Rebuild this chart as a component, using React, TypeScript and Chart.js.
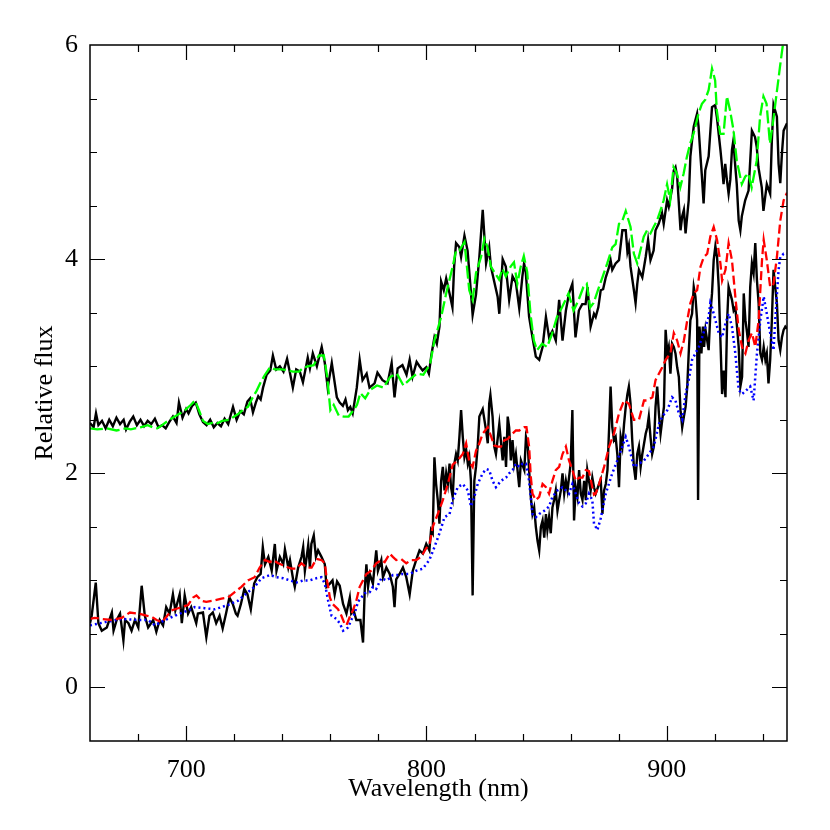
import React, { useEffect, useRef } from "react";
import { Chart, registerables } from "chart.js";
Chart.register(...registerables);

// ---------- data (wavelength in nm, relative flux) ----------
const upperObsNm = [660,661.5,662.5,663.5,665,666.5,668,669.5,671,672.5,674,675,676.5,678,679.5,681,682.5,684,685.5,687,688.5,690,691.5,693,694.5,696,697,698.5,700,701,702.5,704,705.5,707,708.5,710,711.5,713,714.5,716,717.5,719.5,721,722.5,724,725.5,726.6,727.8,729,730,731,732,733.5,735,736.1,737.5,739,740.5,742,743,744.4,745.8,747.3,748.6,750.6,751.5,752.7,754.4,755.5,756.4,757.7,758.9,760.6,762.7,763.9,765.2,766.3,767.3,768.3,769.3,771,772.2,773.4,775.1,776.3,778.4,779.6,781.7,783.8,785.5,786.7,788,790,791.7,793,794.2,795.9,797.1,798.4,799.9,801,802,803.3,804.3,805.4,806.1,807.2,808.2,809.6,810.8,811.5,812.3,813.7,814.4,815.8,817.1,818.5,819.2,820.6,822,823.4,824.8,826.1,826.8,828.2,829.6,830.3,831.7,833,834.4,835.8,837.2,838.6,839.9,840.6,841.3,842.7,844.1,845.5,846.9,848.3,849.7,851,852.4,853.8,855.2,856.6,858,859.3,860.7,862,863.4,864.8,866.2,867,868.3,869.7,870.4,871.5,872.5,873.5,874.6,875.9,876.6,877.3,878.7,880.1,881.5,882.9,883.6,884.2,884.9,886.3,887,887.7,888.4,889.8,891.2,892.2,893.2,894.5,895.3,896.6,898,898.7,900.1,900.8,902.2,902.9,903.6,904.3,905.7,906.4,907.1,907.8,909.1,909.8,910.5,911.2,912.6,913.2,914,914.6,915.3,916,917.4,918.8,920.1,920.8,922.3,923,923.6,924.3,925,925.7,926.4,927.1,927.7,928.4,929.1,929.9,930.6,931.2,932.6,934,935.4,936.7,937.4,938.1,939.5,940.2,941.6,943,943.7,944.4,945.8,946.5,947.2,947.9,948.6,950];
const upperObsFlux = [2.47,2.43,2.56,2.45,2.49,2.42,2.50,2.44,2.52,2.46,2.50,2.41,2.48,2.53,2.45,2.50,2.44,2.49,2.46,2.51,2.43,2.45,2.42,2.48,2.53,2.47,2.66,2.52,2.60,2.56,2.63,2.66,2.55,2.48,2.45,2.50,2.43,2.47,2.44,2.51,2.46,2.62,2.50,2.58,2.55,2.67,2.70,2.57,2.66,2.72,2.69,2.80,2.92,2.96,3.10,2.97,3.00,2.95,3.07,2.96,2.80,2.97,2.95,2.85,3.08,2.98,3.12,3.00,3.10,3.18,3.03,2.80,3.03,2.71,2.66,2.63,2.69,2.59,2.62,2.56,2.80,3.06,2.87,2.93,2.80,2.84,2.94,2.87,2.84,3.03,2.71,2.98,3.01,2.92,3.06,2.90,3.04,3.00,2.96,2.99,2.93,3.10,3.27,3.21,3.37,3.79,3.71,3.82,3.68,3.55,3.93,4.15,4.11,4.02,4.22,4.08,3.69,3.48,3.67,4.02,4.46,3.96,4.11,3.93,3.79,3.65,3.49,4.00,3.93,3.62,3.84,3.78,3.54,3.84,3.96,3.88,3.46,3.27,3.09,3.06,3.18,3.46,3.27,3.33,3.24,3.62,3.24,3.52,3.68,3.77,3.27,3.52,3.58,3.58,3.74,3.37,3.49,3.46,3.55,3.71,3.72,3.83,3.92,3.99,3.90,3.96,3.99,4.27,4.27,4.07,4.13,3.93,3.71,3.59,3.77,3.90,3.83,4.02,4.18,3.99,4.08,4.27,4.33,4.43,4.33,4.55,4.49,4.66,4.83,4.86,4.77,4.27,4.40,4.46,4.24,4.55,4.96,5.11,5.24,5.36,5.24,4.96,4.77,4.52,4.83,4.96,5.42,5.44,5.33,5.02,4.86,4.70,4.89,4.74,4.61,4.74,5.02,5.11,4.89,4.70,4.36,4.27,4.40,4.55,4.64,5.20,5.14,5.05,4.86,4.67,4.45,4.70,4.61,5.11,5.44,5.33,4.89,4.71,4.99,5.20,5.27];

const upperModelNm = [660,663,667,671,675,677,681,684,686,688,690,693,696,699,702,703.7,705.5,707,709,711,712.5,715,718,720,722,724,725.7,727.5,729.3,731,732.8,734.9,737,740,742,744.5,747,749,751,753.1,755.2,757.3,758.7,760,761.4,763.5,765.6,767.6,769.7,771.1,772.5,774.5,776.6,779.4,782.1,784.9,787.7,790.4,793.2,796,798.7,801.5,803.3,806.1,808.2,810.9,812.3,813.7,815.8,817.8,819.2,820.6,822.7,824.1,825.4,826.8,828.2,830.2,831.6,833,835,836.4,837.8,839.2,840.5,841.9,843.3,844.7,846,848.1,850.2,852.2,854.3,856.4,859.1,861.2,863.3,865.3,866.7,868.1,869.5,871.8,873.2,875.2,877.3,878.7,880.1,881.5,882.9,884.9,886.3,887.7,889,890.4,891.8,893.2,894.5,895.9,897.3,898.7,900.1,901.4,902.8,904.2,905.6,907,908.3,909.7,911.1,913.2,914.6,916,917.4,918.8,920.1,920.8,922.2,923.6,925,926.3,927.7,929.1,931.2,932.6,933.9,935.3,937.4,938.8,940.2,941.5,942.9,944.3,945.7,947.1,948.4,950];
const upperModelFlux = [2.42,2.41,2.42,2.40,2.42,2.41,2.43,2.45,2.43,2.42,2.45,2.50,2.54,2.58,2.64,2.68,2.58,2.49,2.46,2.47,2.46,2.49,2.50,2.53,2.56,2.60,2.62,2.70,2.77,2.85,2.92,2.99,2.97,2.97,2.96,2.95,2.95,2.99,3.00,3.01,3.10,3.10,2.90,2.59,2.64,2.54,2.53,2.53,2.59,2.64,2.75,2.70,2.78,2.82,2.80,2.90,2.93,2.82,2.88,2.93,2.92,3.02,3.24,3.46,3.68,3.93,4.08,4.08,4.16,3.71,3.62,3.87,4.02,4.19,4.11,3.93,3.88,3.81,3.91,3.84,3.93,3.97,3.77,3.93,4.03,3.88,3.48,3.24,3.15,3.21,3.18,3.30,3.46,3.55,3.68,3.52,3.62,3.74,3.77,3.55,3.59,3.74,3.83,3.96,4.11,4.14,4.33,4.36,4.45,4.30,4.05,3.96,4.08,4.21,4.27,4.24,4.30,4.36,4.45,4.55,4.70,4.55,4.86,4.80,4.67,4.80,4.95,5.08,5.17,5.36,5.45,5.49,5.58,5.78,5.67,5.39,5.17,5.17,5.52,5.39,5.21,4.92,4.70,4.77,4.80,4.67,4.92,5.33,5.52,5.45,5.08,5.30,5.55,5.80,6.02,6.15];

const lowerObsNm = [660,660.7,662.4,663.5,664.9,667,669.1,669.8,671.1,672.5,673.9,674.6,676,677.3,678.7,680.1,681.5,682.8,684.2,686.3,687.6,689,690.4,691.7,693.1,694.5,695.5,697.3,698.2,699.4,700.8,702.1,704.2,704.9,707,708.4,709.7,711.1,712.5,713.9,715.2,716.6,718,719.4,720.7,721.4,722.8,724.2,725.5,726.9,728.3,729.6,731,731.9,732.8,734.2,735.6,736.9,737.6,739,740.4,741.1,742.5,743.2,744.5,745.2,746.6,748,748.7,749.4,750.8,751.5,752.1,753.1,754,754.9,756.3,757.7,758.4,759.8,760.9,761.8,762.8,763.9,765.3,766.7,768.1,768.7,769.7,770.8,772.5,773.6,774.3,775,775.7,776.4,777.7,779.1,779.8,781.2,781.9,783.3,784.7,786,786.7,787.4,788.8,790.2,791.6,793,794.3,795.7,797.1,798.5,799.9,801.2,801.9,802.6,803.3,804,804.7,805.4,806.1,806.8,807.5,808.2,808.9,809.6,810.2,810.9,811.6,812.3,813,813.7,814.4,815.1,815.8,816.5,817.2,817.8,818.5,819.2,819.9,820.6,821.3,822,823.4,824.8,825.5,826.1,826.6,827.5,828.2,828.9,830.3,831.7,832.4,833.1,833.8,834.4,835.1,835.8,836.5,837.2,838.6,839.3,840.7,841.4,842.1,842.7,843.4,844.1,844.8,845.5,846.2,846.9,847.6,848.3,849,849.7,850.3,851,851.7,852.4,853.1,853.8,854.5,855.2,855.9,856.6,857.3,858,858.7,859.3,860,860.7,861.4,862.1,862.8,863.5,864.2,864.9,865.6,866.3,866.9,867.6,868.3,869,869.7,870.4,871.8,872.5,873.2,873.9,874.6,875.3,876,876.6,877.3,878,878.7,879.4,880.1,880.8,881.5,882.2,882.9,883.6,884.2,884.9,885.6,886.3,887,887.7,888.4,889.1,889.8,891.2,891.9,892.5,893.2,893.9,894.6,895.3,896,896.7,897.4,898.1,898.8,899.5,900.2,900.8,901.5,902.2,902.9,903.6,904.3,905,905.7,906.4,907.1,907.8,908.5,909.1,909.8,910.5,911.2,911.9,912.6,913,913.6,914.4,915,915.5,916.1,916.8,917.4,918.1,918.8,919.5,920.2,920.9,921.6,922.3,923,923.7,924.4,925.1,925.7,926.4,927.1,927.8,928.5,929.2,929.9,930.6,931.3,932,932.7,933.4,934,934.7,935.4,936.1,936.8,937.5,938.2,938.9,939.6,940.3,941,941.6,942.3,943,943.7,944.4,945.1,945.8,946.5,947.2,947.9,948.6,949.3,950];
const lowerObsFlux = [0.60,0.67,0.98,0.60,0.53,0.56,0.70,0.53,0.63,0.69,0.44,0.63,0.60,0.53,0.63,0.56,0.95,0.67,0.56,0.63,0.52,0.63,0.58,0.75,0.69,0.87,0.72,0.87,0.60,0.86,0.69,0.75,0.60,0.69,0.70,0.47,0.67,0.70,0.60,0.67,0.55,0.69,0.84,0.78,0.69,0.67,0.78,0.92,0.87,0.73,0.97,1.03,1.06,1.31,1.15,1.22,1.09,1.34,1.09,1.22,1.15,1.29,1.12,1.19,1.01,0.94,1.12,1.22,1.31,1.09,1.33,1.12,1.34,1.42,1.22,1.28,1.22,1.15,0.94,0.97,1.00,0.87,0.99,0.95,0.78,0.69,0.84,0.69,0.72,0.63,0.63,0.42,0.91,1.15,0.94,1.06,0.97,1.28,1.09,1.19,1.03,1.12,1.06,0.94,0.75,1.01,1.06,1.12,1.03,0.87,1.09,1.19,1.28,1.25,1.34,1.28,1.47,1.44,2.15,1.90,1.75,1.53,1.93,2.06,1.84,2.00,1.90,2.09,1.87,1.78,2.09,2.18,2.12,2.34,2.59,2.34,2.15,2.22,2.09,2.15,1.93,0.86,1.93,2.06,2.25,2.53,2.60,2.40,2.28,2.65,2.73,2.53,2.25,2.18,2.46,2.12,2.34,2.06,2.53,2.43,2.12,2.31,2.09,2.18,1.87,2.12,2.03,2.34,2.28,2.03,1.78,1.62,1.68,1.50,1.37,1.28,1.50,1.56,1.40,1.62,1.47,1.59,1.44,1.68,1.75,1.84,1.65,1.75,1.84,2.00,1.81,1.93,1.84,1.96,2.09,2.59,1.56,1.87,1.78,2.03,1.81,1.75,1.93,1.75,2.03,1.93,1.84,1.96,1.87,1.81,1.90,1.94,1.62,1.84,1.90,2.03,2.43,2.81,2.43,2.31,2.34,2.18,1.87,2.34,2.25,2.46,2.62,2.74,2.81,2.65,2.31,2.06,1.94,2.18,2.25,2.06,2.18,2.37,2.43,2.53,2.34,2.18,2.25,2.62,2.81,2.56,2.37,2.50,2.62,3.34,3.12,3.18,2.93,3.21,3.18,3.12,2.99,2.90,2.59,2.43,2.53,2.62,2.81,3.12,3.43,3.49,3.74,3.65,3.43,1.75,3.37,3.12,3.37,3.18,3.34,3.24,3.15,3.49,3.68,3.99,4.12,4.02,3.74,3.24,2.74,2.96,2.71,3.43,3.74,3.68,3.62,3.52,3.55,3.37,3.18,2.81,2.90,3.68,3.43,3.31,3.18,3.74,3.96,3.87,4.15,3.80,3.59,3.12,3.06,3.18,3.06,3.12,2.84,3.06,3.43,3.90,3.74,3.59,3.24,3.15,3.27,3.34,3.37,3.35];

const redModelNm = [660,662,664.9,669,673.2,676.6,680.1,683.5,685.6,687.7,689.8,691.8,693.9,696.7,700.8,702.9,704.3,706.4,708.4,711.2,714.7,717.4,720.2,723,725.7,728.5,730.6,732.8,734.9,736.2,738.3,740.4,742.5,743.9,745.9,748,750.1,752.2,754.2,756.3,757.7,758.4,759.1,759.8,760.9,763.2,764.6,766,766.7,768.1,769.4,770.8,772.2,773.6,775,777,779.1,781.2,782.6,784.7,786,787.4,789.5,791.6,793.6,795.7,797.8,799.9,801.2,802.6,804.7,806.8,808.9,810.9,813,815.1,816.5,817.8,819.2,820.6,822,823.4,825.5,826.8,828.2,829.6,831,832.4,833.8,835.8,837.2,838.6,840.7,841.6,842.7,843.4,844.1,845.5,846.9,848.3,849.7,851,852.4,853.8,855.2,856.6,858,859.3,860.7,862.1,863.5,864.9,866.3,867.6,869,869.7,870.4,871.8,873.9,876,878,880.1,882.2,884.2,886.3,888.4,890.5,891.9,894,895.3,896.7,898.1,899.5,901.5,902.9,904.3,905.7,907.1,908.5,909.8,911.2,912.6,914,915.4,916.8,918.1,919.5,920.9,922.3,923,924.4,925.7,927.1,928.5,929.9,931.3,932.7,934,935.4,936.8,938.2,939.6,940.3,941.6,943,944.4,945.8,947.2,948.6,950];
const redModelFlux = [0.64,0.65,0.64,0.63,0.65,0.70,0.69,0.67,0.66,0.63,0.61,0.66,0.72,0.74,0.77,0.84,0.86,0.81,0.80,0.81,0.83,0.84,0.89,0.94,1.00,1.03,1.12,1.19,1.17,1.19,1.16,1.14,1.12,1.11,1.11,1.16,1.12,1.12,1.20,1.19,1.16,1.03,0.94,0.84,0.78,0.73,0.67,0.59,0.58,0.66,0.72,0.81,0.94,1.00,1.06,1.09,1.16,1.19,1.17,1.25,1.22,1.19,1.20,1.16,1.19,1.19,1.22,1.30,1.33,1.50,1.62,1.75,1.90,2.08,2.12,2.18,2.28,2.11,2.06,2.21,2.28,2.37,2.43,2.35,2.26,2.25,2.25,2.31,2.32,2.37,2.40,2.40,2.43,2.43,2.25,1.97,1.81,1.75,1.78,1.90,1.87,1.81,1.93,2.03,2.06,2.18,2.25,2.12,2.03,1.93,1.96,1.96,2.03,2.02,1.87,1.80,1.81,1.90,2.06,2.25,2.37,2.56,2.68,2.65,2.50,2.50,2.68,2.68,2.71,2.87,2.93,2.99,3.06,3.12,3.31,3.24,3.12,3.24,3.43,3.59,3.68,3.71,3.93,4.02,4.05,4.21,4.30,4.18,3.96,3.80,3.90,4.15,3.99,3.65,3.34,3.18,3.12,3.24,3.31,3.18,3.43,3.99,4.18,3.99,3.74,3.77,4.02,4.36,4.55,4.62];

const blueModelNm = [660,666.3,673.2,680.1,684.2,687,691.2,695.3,700.8,703.6,707.7,711.9,717.4,721.6,725.7,728.5,731.3,734.9,737.6,740.4,743.2,746,748.7,751.5,754.2,756.3,757.7,759.1,760.5,762.5,763.9,765.3,767.4,768.7,770.1,771.5,772.9,774.3,776.4,777.7,779.1,781.2,783.3,784.7,786,788.1,790.2,793,795.7,798.5,801.2,803.3,805.4,807.5,809.6,810.9,813,815.1,817.2,818.5,819.9,821.3,823.4,824.8,826.1,827.5,828.9,831,833.1,834.4,835.8,837.2,838.6,840,841.4,842.7,844.1,845.5,846.9,849,851,852.4,854.5,856.6,858,859.3,860.7,862.1,863.5,864.9,866.3,867.6,869,869.7,871.1,872.5,874.6,877.3,879.4,881.5,882.9,884.2,886.3,888.4,890.5,892.5,894.6,896.7,898.1,900.2,902.2,903.6,905,906.4,907.8,909.1,910.5,911.9,913.3,914.7,916.1,917.4,918.1,918.8,920.2,921.6,923,924.4,925.7,927.1,928.5,929.9,931.3,933.3,934.7,936.1,937.5,938.9,940.3,941.6,943,944.4,945.1,946.5,947.2,948.6,950];
const blueModelFlux = [0.58,0.61,0.64,0.63,0.63,0.58,0.63,0.67,0.72,0.75,0.74,0.73,0.77,0.81,0.89,0.94,1.02,1.05,1.03,1.02,1.00,0.98,1.00,1.00,1.02,1.03,0.97,0.81,0.67,0.64,0.60,0.53,0.56,0.63,0.69,0.80,0.84,0.88,0.89,0.94,0.92,1.02,1.00,1.02,1.05,1.05,1.06,1.06,1.09,1.11,1.19,1.31,1.44,1.59,1.62,1.75,1.87,1.90,1.84,1.69,1.78,1.90,2.00,2.04,2.03,1.93,1.87,1.93,1.96,2.00,2.03,2.09,2.06,2.09,2.09,1.93,1.62,1.59,1.62,1.65,1.69,1.78,1.84,1.87,1.84,1.81,1.90,1.81,1.72,1.69,1.72,1.81,1.75,1.53,1.47,1.58,1.81,2.00,2.12,2.25,2.34,2.25,2.06,2.09,2.12,2.18,2.25,2.46,2.53,2.59,2.71,2.68,2.56,2.50,2.74,2.87,3.06,3.12,3.18,3.27,3.37,3.46,3.59,3.55,3.43,3.31,3.27,3.40,3.49,3.37,3.12,2.78,2.74,2.78,2.81,2.68,3.12,3.43,3.65,3.49,3.31,3.15,3.43,3.90,4.02,4.05,4.05];

const xTickValues = [700, 800, 900];
const yTickValues = [0, 2, 4, 6];
const xMinorStep = 20;
const yMinorStep = 0.5;

const FONT = "'Liberation Serif', 'Times New Roman', serif";

function toPoints(xs: number[], ys: number[]) {
  return xs.map((x, i) => ({ x, y: ys[i] }));
}

const framePlugin = {
  id: "frameTicks",
  afterDraw(chart: any) {
    const { ctx, chartArea } = chart;
    const { left, right, top, bottom } = chartArea;
    const xs = chart.scales.x;
    const ys = chart.scales.y;
    ctx.save();
    ctx.strokeStyle = "#000";
    ctx.lineWidth = 1.5;
    ctx.strokeRect(left, top, right - left, bottom - top);
    ctx.lineWidth = 1.2;
    ctx.beginPath();
    for (let v = 680; v <= 940; v += xMinorStep) {
      const p = Math.round(xs.getPixelForValue(v)) + 0.5;
      const len = v % 100 === 0 ? 15 : 7;
      ctx.moveTo(p, bottom);
      ctx.lineTo(p, bottom - len);
      ctx.moveTo(p, top);
      ctx.lineTo(p, top + len);
    }
    for (let v = 0; v <= 5.75; v += yMinorStep) {
      const p = Math.round(ys.getPixelForValue(v)) + 0.5;
      const len = Math.abs(v % 2) < 1e-6 ? 15 : 7;
      ctx.moveTo(left, p);
      ctx.lineTo(left + len, p);
      ctx.moveTo(right, p);
      ctx.lineTo(right - len, p);
    }
    ctx.stroke();
    ctx.restore();
  },
};

export default function App() {
  const ref = useRef<HTMLCanvasElement | null>(null);
  useEffect(() => {
    if (!ref.current) return;
    const common = { showLine: true, pointRadius: 0, fill: false, tension: 0 };
    const chart = new Chart(ref.current, {
      type: "scatter",
      data: {
        datasets: [
          {
            ...common,
            label: "model upper",
            data: toPoints(upperModelNm, upperModelFlux),
            borderColor: "#00ff00",
            borderWidth: 2.3,
            borderDash: [13, 4],
            order: 0,
          },
          {
            ...common,
            label: "model red",
            data: toPoints(redModelNm, redModelFlux),
            borderColor: "#ff0000",
            borderWidth: 2.3,
            borderDash: [9, 4],
            order: 0,
          },
          {
            ...common,
            label: "model blue",
            data: toPoints(blueModelNm, blueModelFlux),
            borderColor: "#0000ff",
            borderWidth: 2.5,
            borderDash: [2, 3],
            order: 0,
          },
          {
            ...common,
            label: "observed upper",
            data: toPoints(upperObsNm, upperObsFlux),
            borderColor: "#000000",
            borderWidth: 2.4,
            order: 1,
          },
          {
            ...common,
            label: "observed lower",
            data: toPoints(lowerObsNm, lowerObsFlux),
            borderColor: "#000000",
            borderWidth: 2.4,
            order: 1,
          },
        ],
      } as any,
      options: {
        animation: false,
        responsive: false,
        maintainAspectRatio: false,
        layout: { padding: { top: 45, right: 43, bottom: 0, left: 0 } },
        plugins: {
          legend: { display: false },
          tooltip: { enabled: false },
        },
        scales: {
          x: {
            type: "linear",
            position: "bottom",
            min: 660,
            max: 950,
            grid: { display: false, drawTicks: false },
            border: { display: false },
            afterBuildTicks: (s: any) => {
              s.ticks = xTickValues.map((v) => ({ value: v }));
            },
            afterFit: (s: any) => {
              s.height = 89;
            },
            ticks: {
              color: "#000",
              font: { family: FONT, size: 26 },
              padding: 14,
              maxRotation: 0,
              autoSkip: false,
              callback: (v: any) => String(v),
            },
            title: {
              display: true,
              text: "Wavelength (nm)",
              color: "#000",
              font: { family: FONT, size: 26 },
              padding: { top: 0, bottom: 25 },
            },
          },
          y: {
            type: "linear",
            position: "left",
            min: -0.5,
            max: 6,
            grid: { display: false, drawTicks: false },
            border: { display: false },
            afterBuildTicks: (s: any) => {
              s.ticks = yTickValues.map((v) => ({ value: v }));
            },
            afterFit: (s: any) => {
              s.width = 90;
            },
            ticks: {
              color: "#000",
              font: { family: FONT, size: 26 },
              padding: 12,
              autoSkip: false,
              callback: (v: any) => String(v),
            },
            title: {
              display: true,
              text: "Relative flux",
              color: "#000",
              font: { family: FONT, size: 26 },
              padding: { top: 30, bottom: 0 },
            },
          },
        },
      } as any,
      plugins: [framePlugin],
    });
    return () => chart.destroy();
  }, []);

  return (
    <div style={{ position: "absolute", left: 0, top: 0, width: 830, height: 830, background: "#fff" }}>
      <canvas ref={ref} width={830} height={830} style={{ display: "block", width: 830, height: 830 }} />
    </div>
  );
}
